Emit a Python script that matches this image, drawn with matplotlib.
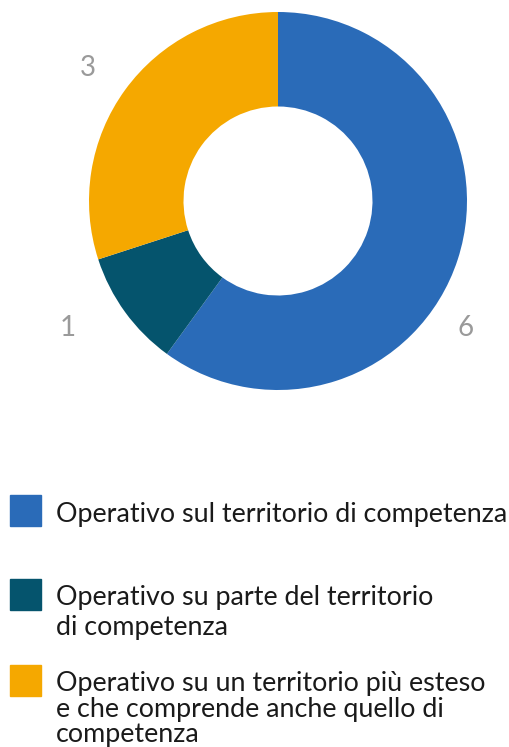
import matplotlib
matplotlib.use("Agg")
import matplotlib.pyplot as plt
from matplotlib.patches import Rectangle

plt.rcParams['font.family'] = ['Lato', 'DejaVu Sans']

# dati
values = [6, 1, 3]
colors = ['#2A6BB8', '#05546D', '#F5A800']
value_labels = ['6', '1', '3']
legend_lines = [
    ['Operativo sul territorio di competenza'],
    ['Operativo su parte del territorio', 'di competenza'],
    ['Operativo su un territorio più esteso', 'e che comprende anche quello di', 'competenza'],
]

W, H = 509, 747
fig = plt.figure(figsize=(W / 100, H / 100), dpi=100)

# ciambella: centro (278, 201) px, raggio 189 px
cx, cy, r = 278, 201, 189
ax = fig.add_axes([(cx - r) / W, (H - cy - r) / H, 2 * r / W, 2 * r / H])
ax.pie(values, colors=colors, startangle=90, counterclock=False, radius=1,
       wedgeprops=dict(width=0.5, linewidth=0))
ax.set_xlim(-1, 1)
ax.set_ylim(-1, 1)
ax.set_aspect('equal')
ax.axis('off')

# etichette dei valori
label_pos = {'6': (466, 328), '1': (68, 328), '3': (88, 68)}
for lab in value_labels:
    px, py = label_pos[lab]
    ax.text((px - cx) / r, (cy - py) / r, lab, ha='center', va='center',
            fontsize=20, color='#9a9a9a', clip_on=False)

# legenda
square_tops = [495, 579, 665]
baselines = [[522], [605, 635], [691, 717, 742]]
for col, top, lines, bls in zip(colors, square_tops, legend_lines, baselines):
    fig.patches.append(Rectangle((10 / W, (H - top - 31) / H), 31 / W, 31 / H,
                                 transform=fig.transFigure, color=col))
    for line, b in zip(lines, bls):
        fig.text(56 / W, (H - b) / H, line, ha='left', va='baseline',
                 fontsize=19.4, color='#1a1a1a')

fig.savefig('out.png', dpi=100)
